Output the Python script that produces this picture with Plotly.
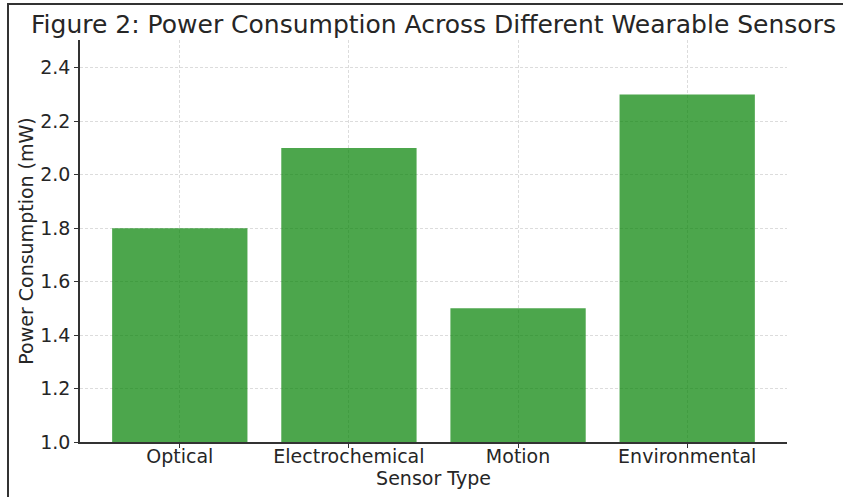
import plotly.graph_objects as go

categories = ["Optical", "Electrochemical", "Motion", "Environmental"]
power_mw = [1.8, 2.1, 1.5, 2.3]
y_ticks = [1.0, 1.2, 1.4, 1.6, 1.8, 2.0, 2.2, 2.4]

FONT = "DejaVu Sans"
TXT = "#262626"

W, H = 843, 497
L, R, T, B = 80, 56, 40, 55

fig = go.Figure()
fig.add_trace(go.Bar(
    x=list(range(len(categories))), y=power_mw, base=0,
    width=0.8, marker=dict(color="rgba(0,128,0,0.7)", line=dict(width=0)),
    hoverinfo="skip",
))

pw = W - L - R
ph = H - T - B

fig.update_layout(
    width=W, height=H,
    margin=dict(l=L, r=R, t=T, b=B, autoexpand=False),
    paper_bgcolor="white", plot_bgcolor="white",
    showlegend=False,
    font=dict(family=FONT, size=19, color=TXT),
    title=dict(text="Figure 2: Power Consumption Across Different Wearable Sensors",
               x=(L + pw / 2) / W, xanchor="center", y=1 - 24 / H, yanchor="middle",
               font=dict(family=FONT, size=25, color=TXT)),
    xaxis=dict(
        range=[-0.59, 3.59], tickmode="array", automargin=False,
        tickvals=list(range(len(categories))), ticktext=categories,
        showline=True, linecolor="#333333", linewidth=1.5,
        ticks="outside", ticklen=4, tickcolor="#333333",
        ticklabelstandoff=-8,
        showgrid=True, gridcolor="#dcdcdc", griddash="3px,2px", gridwidth=1,
        zeroline=False,
        title=dict(text="Sensor Type", standoff=3, font=dict(size=19)),
        tickfont=dict(size=19),
    ),
    yaxis=dict(
        range=[1.0, 2.504], tickmode="array", tickvals=y_ticks, automargin=False,
        ticktext=[f"{v:.1f}" for v in y_ticks],
        showline=True, linecolor="#333333", linewidth=1.5,
        ticks="outside", ticklen=4, tickcolor="#333333",
        showgrid=True, gridcolor="#dcdcdc", griddash="3px,2px", gridwidth=1,
        zeroline=False,
        title=dict(text="Power Consumption (mW)", standoff=2, font=dict(size=19)),
        tickfont=dict(size=19),
    ),
    shapes=[
        dict(type="rect", xref="paper", yref="paper", layer="above",
             x0=-(L - 8) / pw, x1=1 + (R + 20) / pw,
             y0=-(B + 20) / ph, y1=1 + (T - 4) / ph,
             line=dict(color="#333333", width=2), fillcolor="rgba(0,0,0,0)"),
    ],
)

fig.write_html("out.html", config={"displayModeBar": False},
               post_script="document.body.style.margin='0';")
